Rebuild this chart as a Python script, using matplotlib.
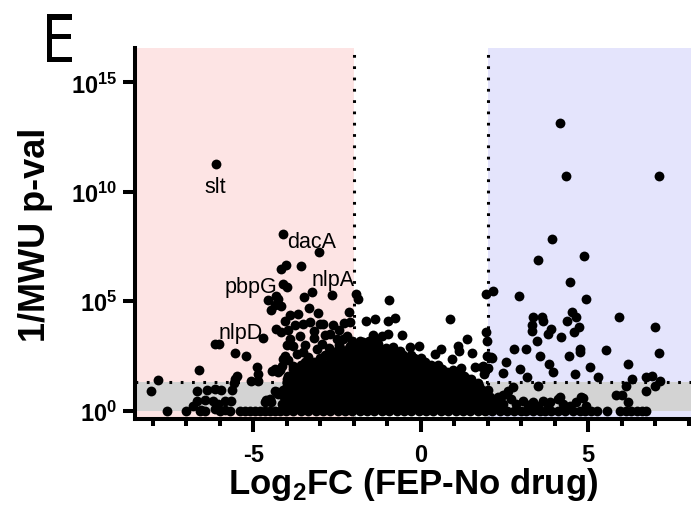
import numpy as np
import matplotlib.pyplot as plt
from matplotlib.textpath import TextPath
from matplotlib.patches import PathPatch
from matplotlib.font_manager import FontProperties
from matplotlib.transforms import Affine2D

plt.rcParams['font.family'] = 'Liberation Sans'
plt.rcParams['mathtext.fontset'] = 'custom'
plt.rcParams['mathtext.rm'] = 'Liberation Sans'
plt.rcParams['mathtext.bf'] = 'Liberation Sans:bold'

# values: (log2FC, log10 of 1/MWU p)
left_hits = [
    (-6.11, 11.27), (-4.12, 8.07), (-3.03, 7.24), (-4.02, 6.65), (-4.17, 6.47),
    (-3.58, 6.62), (-4.10, 5.79), (-3.98, 5.64), (-4.57, 5.07), (-4.32, 5.25),
    (-4.25, 5.10), (-4.46, 4.62), (-4.35, 4.85), (-4.18, 4.77), (-3.49, 5.18),
    (-3.26, 5.41), (-2.66, 5.29), (-3.33, 4.68), (-3.06, 4.48), (-2.14, 4.50),
    (-2.12, 4.04), (-4.05, 4.11), (-4.31, 3.73), (-3.51, 3.96), (-2.61, 3.92),
    (-2.91, 3.96), (-4.70, 3.31), (-6.14, 3.05), (-6.01, 3.05), (-5.55, 2.62),
    (-5.22, 2.51), (-6.62, 1.86), (-7.84, 1.40), (-8.04, 0.91), (-4.90, 1.98),
    (-4.87, 1.68), (-4.85, 1.37), (-5.08, 1.37), (-5.48, 1.60), (-5.55, 1.45),
    (-5.58, 1.25), (-4.35, 1.90), (-4.45, 1.80), (-4.20, 1.84), (-4.15, 2.06),
    (-4.05, 2.51), (-4.16, 3.58), (-3.90, 3.28), (-3.80, 2.97), (-3.60, 3.43),
    (-3.31, 4.04), (-3.01, 3.96), (-2.71, 3.50), (-2.51, 3.28), (-2.21, 3.43),
    (-2.11, 2.97), (-3.51, 2.67), (-3.11, 2.82), (-2.61, 2.67), (-4.10, 2.36),
    (-3.80, 2.06), (-3.31, 2.21), (-2.81, 2.06), (-2.31, 2.36), (-4.25, 1.75),
    (-4.00, 1.45), (-2.31, 3.28), (-3.95, 2.30), (-3.70, 2.60), (-3.45, 3.00),
    (-3.20, 3.30), (-2.95, 3.05), (-2.75, 2.85), (-2.45, 3.00), (-2.30, 2.70),
    (-3.95, 3.70), (-3.75, 3.90), (-3.20, 3.65), (-2.85, 3.45), (-2.45, 3.70),
    (-2.30, 4.00), (-3.65, 4.40), (-3.90, 4.35), (-4.00, 3.00), (-3.35, 2.45),
    (-6.69, 0.91), (-6.39, 0.94), (-6.14, 0.99), (-5.96, 0.96), (-5.63, 0.96),
    (-6.69, 0.46), (-6.44, 0.49), (-6.79, 0.20), (-6.20, 0.46), (-6.05, 0.31),
    (-5.85, 0.46), (-5.67, 0.46), (-6.55, 0.05), (-6.14, 0.08), (-5.85, 0.05),
    (-4.65, 0.38), (-4.47, 0.38), (-4.62, 0.49), (-4.35, 0.91), (-4.25, 0.76),
    (-4.50, 0.53), (-4.30, 0.84),
]

middle_hits = [
    (-1.92, 5.33), (-1.87, 5.12), (-0.94, 5.07), (0.87, 4.19), (-1.62, 4.09),
    (-1.37, 4.20), (-0.99, 4.11), (-0.76, 4.22), (-1.42, 3.46), (-1.17, 3.43),
    (-0.97, 3.52), (-0.55, 3.44), (-1.72, 3.12), (-0.84, 2.90), (-0.32, 2.90),
    (-0.05, 2.97), (0.42, 2.57), (0.22, 1.98), (0.62, 2.82), (0.92, 2.37),
    (0.97, 1.87), (1.19, 1.96), (1.62, 2.01), (1.82, 2.01), (2.01, 1.94),
    (1.95, 3.58), (1.97, 3.20), (1.37, 3.28), (1.12, 2.97), (1.15, 2.74),
    (1.54, 2.62), (2.12, 2.42), (1.50, 1.45), (1.90, 1.66), (1.87, 2.06),
    (0.87, 1.60), (1.97, 2.51),
]

right_hits = [
    (4.16, 13.14), (4.33, 10.74), (7.10, 10.72), (3.93, 7.83), (3.51, 6.90),
    (4.87, 7.08), (4.45, 5.89), (4.95, 5.10), (2.94, 5.25), (1.95, 5.33),
    (2.16, 5.48), (3.36, 4.27), (3.61, 4.27), (3.66, 4.11), (3.31, 3.92),
    (3.31, 3.66), (3.48, 3.20), (3.89, 3.73), (3.81, 3.50), (4.19, 3.38),
    (4.37, 4.11), (4.53, 4.50), (4.65, 4.27), (4.72, 3.81), (4.58, 3.58),
    (2.79, 2.82), (3.14, 2.82), (3.56, 2.51), (4.43, 2.51), (4.77, 2.82),
    (4.77, 2.67), (5.53, 2.77), (5.92, 4.27), (7.01, 3.81), (7.12, 2.64),
    (2.09, 2.44), (2.54, 2.24), (2.96, 1.90), (2.46, 1.71), (3.16, 1.53),
    (3.84, 2.13), (3.96, 1.78), (4.62, 1.68), (5.05, 1.98), (5.30, 1.53),
    (6.19, 2.13), (6.30, 1.45), (6.72, 1.53), (6.91, 1.60), (7.14, 1.37),
    (7.01, 1.14), (6.72, 0.91), (6.14, 1.14), (5.82, 0.72), (6.02, 0.73),
    (6.19, 0.41), (3.51, 1.14), (4.10, 0.53), (4.85, 0.57), (2.76, 1.07),
    (2.46, 0.70), (3.06, 0.46), (3.36, 0.38), (3.66, 0.46), (3.86, 0.38),
    (4.15, 0.61), (4.45, 0.23), (4.65, 0.38), (4.80, 0.61), (4.95, 0.23),
    (2.60, 0.90), (2.70, 0.55), (2.85, 0.30), (3.20, 0.25), (3.50, 0.20),
    (3.80, 0.22), (4.25, 0.30),
]

# genes with p = 1
floor_x = [
    -7.56, -7.02, -6.60, -6.44, -5.99, -5.70, -5.40, -5.25, -5.10, -4.95,
    -4.80, -4.65, -4.50, -4.35, -4.20, -4.02, -3.80, -3.58, -3.36, -3.14,
    -2.92, -2.70, -2.48, -2.26, -2.04, -1.82, -1.60, -1.38, -1.16, -0.94,
    -0.72, -0.50, -0.28, -0.06, 0.16, 0.38, 0.60, 0.82, 1.04, 1.26,
    1.48, 1.70, 1.92, 2.14, 2.36, 2.58, 2.80, 2.98, 3.15, 3.35,
    3.55, 3.72, 3.90, 4.10, 4.30, 4.55, 4.75, 4.92, 5.08, 5.25,
    5.55, 5.95, 6.12, 6.28, 6.45, 6.60, 6.72,
]

# dense body of the volcano, one row per log10 level
cloud_rows = [
    (0.15, [-4.05, -3.72, -3.40, -3.08, -2.75, -2.42, -2.10, -1.78, -1.45, -1.12,
            -0.80, -0.48, -0.15, 0.18, 0.50, 0.82, 1.15, 1.48, 1.80, 2.12]),
    (0.30, [-4.15, -3.95, -3.72, -3.50, -3.28, -3.05, -2.83, -2.60, -2.38, -2.16,
            -1.94, -1.72, -1.50, -1.28, -1.06, -0.84, -0.62, -0.40, -0.18, 0.04,
            0.26, 0.48, 0.70, 0.92, 1.14, 1.36, 1.58, 1.80, 2.02, 2.24, 2.46]),
    (0.46, [-3.98, -3.75, -3.53, -3.31, -3.09, -2.87, -2.65, -2.43, -2.21, -1.99,
            -1.77, -1.55, -1.33, -1.11, -0.89, -0.67, -0.45, -0.23, -0.01, 0.21,
            0.43, 0.65, 0.87, 1.09, 1.31, 1.53, 1.75, 1.97, 2.19]),
    (0.62, [-4.08, -3.86, -3.64, -3.42, -3.20, -2.98, -2.76, -2.54, -2.32, -2.10,
            -1.88, -1.66, -1.44, -1.22, -1.00, -0.78, -0.56, -0.34, -0.12, 0.10,
            0.32, 0.54, 0.76, 0.98, 1.20, 1.42, 1.64, 1.86, 2.08, 2.30]),
    (0.78, [-3.97, -3.75, -3.53, -3.31, -3.09, -2.87, -2.65, -2.43, -2.21, -1.99,
            -1.77, -1.55, -1.33, -1.11, -0.89, -0.67, -0.45, -0.23, -0.01, 0.21,
            0.43, 0.65, 0.87, 1.09, 1.31, 1.53, 1.75, 1.95]),
    (0.95, [-4.12, -3.90, -3.68, -3.46, -3.24, -3.02, -2.80, -2.58, -2.36, -2.14,
            -1.92, -1.70, -1.48, -1.26, -1.04, -0.82, -0.60, -0.38, -0.16, 0.06,
            0.28, 0.50, 0.72, 0.94, 1.16, 1.38, 1.60, 1.82, 2.00]),
    (1.11, [-3.99, -3.77, -3.55, -3.33, -3.11, -2.89, -2.67, -2.45, -2.23, -2.01,
            -1.79, -1.57, -1.35, -1.13, -0.91, -0.69, -0.47, -0.25, -0.03, 0.19,
            0.41, 0.63, 0.85, 1.07, 1.29, 1.51, 1.73]),
    (1.28, [-4.00, -3.78, -3.56, -3.34, -3.12, -2.90, -2.68, -2.46, -2.24, -2.02,
            -1.80, -1.58, -1.36, -1.14, -0.92, -0.70, -0.48, -0.26, -0.04, 0.18,
            0.40, 0.62, 0.84, 1.06, 1.28, 1.50, 1.70]),
    (1.44, [-3.86, -3.64, -3.42, -3.20, -2.98, -2.76, -2.54, -2.32, -2.10, -1.88,
            -1.66, -1.44, -1.22, -1.00, -0.78, -0.56, -0.34, -0.12, 0.10, 0.32,
            0.54, 0.76, 0.98, 1.20, 1.40]),
    (1.60, [-3.95, -3.72, -3.50, -3.28, -3.06, -2.84, -2.62, -2.40, -2.18, -1.96,
            -1.74, -1.52, -1.30, -1.08, -0.86, -0.64, -0.42, -0.20, 0.02, 0.24,
            0.46, 0.68, 0.90, 1.12, 1.30]),
    (1.76, [-3.68, -3.44, -3.20, -2.99, -2.77, -2.55, -2.33, -2.11, -1.89, -1.67,
            -1.45, -1.23, -1.01, -0.79, -0.57, -0.35, -0.13, 0.09, 0.31, 0.53,
            0.78, 1.02]),
    (1.92, [-3.80, -3.55, -3.30, -3.10, -2.88, -2.66, -2.44, -2.22, -2.00, -1.78,
            -1.56, -1.34, -1.12, -0.90, -0.68, -0.46, -0.24, -0.02, 0.20, 0.40,
            0.65]),
    (2.08, [-3.58, -3.05, -2.77, -2.55, -2.33, -2.11, -1.89, -1.67, -1.45, -1.23,
            -1.01, -0.79, -0.57, -0.35, -0.13, 0.09, 0.30, 0.52]),
    (2.24, [-3.45, -3.20, -2.95, -2.72, -2.50, -2.28, -2.06, -1.84, -1.62, -1.40,
            -1.18, -0.96, -0.74, -0.52, -0.30, -0.08, 0.12]),
    (2.40, [-3.00, -2.62, -2.39, -2.17, -1.95, -1.73, -1.51, -1.29, -1.07, -0.85,
            -0.63, -0.41, -0.19, 0.02]),
    (2.56, [-2.85, -2.55, -2.30, -2.08, -1.86, -1.64, -1.42, -1.20, -0.98, -0.76,
            -0.54, -0.30]),
    (2.72, [-2.50, -2.20, -1.97, -1.75, -1.53, -1.31, -1.09, -0.87, -0.63]),
    (2.88, [-2.40, -2.15, -1.93, -1.71, -1.49, -1.27, -1.05]),
    (3.04, [-2.00, -1.76, -1.52, -1.28]),
    (3.18, [-2.05, -1.80, -1.55, -1.30]),
]

gene_names = ['slt', 'dacA', 'pbpG', 'nlpA', 'nlpD']
gene_label_x = [-6.14, -3.99, -4.29, -3.26, -6.05]
gene_label_y = [9.99, 7.48, 5.42, 5.74, 3.31]
gene_label_ha = ['center', 'left', 'right', 'left', 'left']

xtick_major = [-5, 0, 5]
xtick_labels = ['-5', '0', '5']
xtick_minor = [-8, -7, -6, -4, -3, -2, -1, 1, 2, 3, 4, 6, 7, 8]
ytick_vals = [1, 1e5, 1e10, 1e15]
ytick_labels = [r'$\mathbf{10^{0}}$', r'$\mathbf{10^{5}}$',
                r'$\mathbf{10^{10}}$', r'$\mathbf{10^{15}}$']

fc_cut = 2
p_cut = 20  # 1/0.05

xs, ys = [], []
for group in (left_hits, middle_hits, right_hits):
    for x, y in group:
        xs.append(x)
        ys.append(y)
for x in floor_x:
    xs.append(x)
    ys.append(0.0)
for level, row in cloud_rows:
    for x in row:
        xs.append(x)
        ys.append(level)
xs = np.array(xs)
inv_p = 10 ** np.array(ys)

fig = plt.figure(figsize=(6.91, 5.06), dpi=100)
ax = fig.add_axes([135 / 691, 1 - 420 / 506, 1 - 135 / 691, (420 - 49) / 506])
xlo, xhi = -8.53, 8.07
ax.set_xlim(xlo, xhi)
ax.set_yscale('log')
ax.set_ylim(10 ** -0.38, 10 ** 16.57)

ax.axvspan(xlo, -fc_cut, color='#fde4e4', lw=0, zorder=0)
ax.axvspan(fc_cut, xhi, color='#e4e4fc', lw=0, zorder=0)
ax.axhspan(1, p_cut, color='#d3d3d3', lw=0, zorder=1)
dots = (0, (0.9, 2.8))
ax.axvline(-fc_cut, color='black', lw=2.2, ls=dots, zorder=2)
ax.axvline(fc_cut, color='black', lw=2.2, ls=dots, zorder=2)
ax.axhline(p_cut, color='black', lw=2.2, ls=dots, zorder=2)

ax.scatter(xs, inv_p, s=50, c='black', linewidths=0, zorder=4)

for name, lx, ly, ha in zip(gene_names, gene_label_x, gene_label_y, gene_label_ha):
    ax.text(lx, 10 ** ly, name, fontsize=15.5, ha=ha, va='baseline', zorder=5)

ax.set_xticks(xtick_major)
ax.set_xticklabels(xtick_labels, fontweight='bold')
ax.set_xticks(xtick_minor, minor=True)
ax.set_yticks(ytick_vals)
ax.set_yticklabels(ytick_labels)
ax.yaxis.set_minor_locator(plt.NullLocator())
ax.tick_params(axis='x', which='major', length=9.5, width=2.9, labelsize=17, pad=8)
ax.tick_params(axis='x', which='minor', length=5, width=2.9)
ax.tick_params(axis='y', which='major', length=8.6, width=2.9, labelsize=17, pad=4)
for side in ('top', 'right'):
    ax.spines[side].set_visible(False)
for side in ('left', 'bottom'):
    ax.spines[side].set_linewidth(2.9)

ax.set_xlabel(r'Log$_{\mathbf{2}}$FC (FEP-No drug)', fontsize=25, fontweight='bold', labelpad=-1)
ax.set_ylabel('1/MWU p-val', fontsize=26, fontweight='bold', labelpad=13)

# panel letter, squeezed to the narrow face used in the original
tp = TextPath((0, 0), 'E', size=1, prop=FontProperties(family='DejaVu Sans'))
ext = tp.get_extents()
sx = 0.25 / ext.width
sy = 0.48 / ext.height
tr = Affine2D().translate(-ext.x0, -ext.y0).scale(sx, sy).translate(0.47, 5.06 - 0.633)
fig.add_artist(PathPatch(tp, transform=tr + fig.dpi_scale_trans, color='black', lw=0))

fig.savefig('out.png', dpi=100)
